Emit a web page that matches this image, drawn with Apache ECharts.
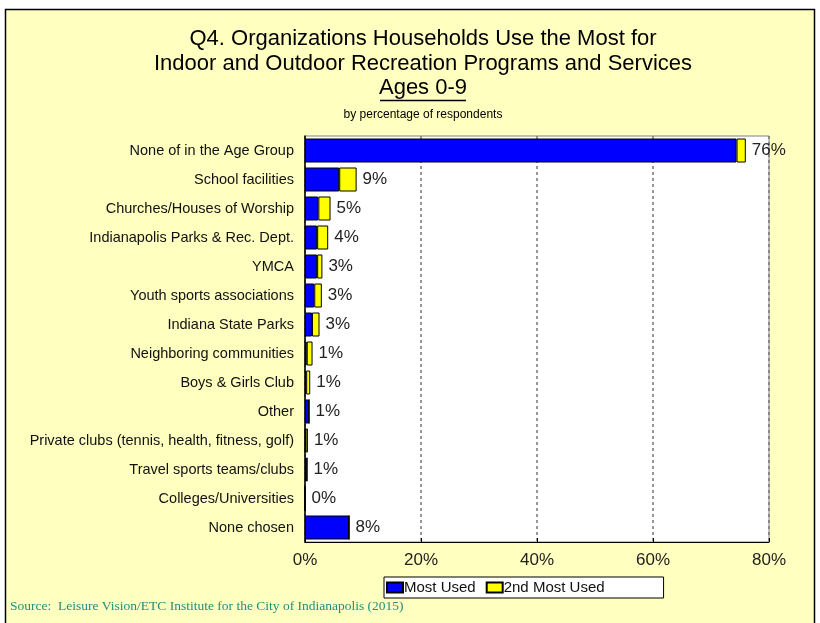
<!DOCTYPE html>
<html>
<head>
<meta charset="utf-8">
<script src="https://cdn.jsdelivr.net/npm/echarts@6/dist/echarts.min.js"></script>
<style>
  html, body { margin: 0; padding: 0; background: #fff; }
  #chart { width: 820px; height: 623px; }
</style>
</head>
<body>
<div id="chart"></div>
<script>
// categories, top to bottom
var categories = [
    'None of in the Age Group',
    'School facilities',
    'Churches/Houses of Worship',
    'Indianapolis Parks & Rec. Dept.',
    'YMCA',
    'Youth sports associations',
    'Indiana State Parks',
    'Neighboring communities',
    'Boys & Girls Club',
    'Other',
    'Private clubs (tennis, health, fitness, golf)',
    'Travel sports teams/clubs',
    'Colleges/Universities',
    'None chosen'
];
var most_used   = [74.4, 5.9, 2.3, 2.1, 2.1, 1.6, 1.2, 0.3, 0.2, 0.7, 0.1, 0.3, 0, 7.6];
var second_used = [1.6, 3.0, 2.1, 1.9, 0.9, 1.3, 1.3, 1.0, 0.7, 0, 0.4, 0.1, 0, 0];
var total_labels = ['76%', '9%', '5%', '4%', '3%', '3%', '3%', '1%', '1%', '1%', '1%', '1%', '0%', '8%'];
var x_ticks = [0, 20, 40, 60, 80];

var myChart = echarts.init(document.getElementById('chart'));

var font = 'Liberation Sans, Arial, sans-serif';

var option = {
    backgroundColor: '#fff',
    animation: false,
    textStyle: { fontFamily: font },
    graphic: [
        {
            type: 'rect', z: -10, silent: true,
            shape: { x: 5.5, y: 9.5, width: 809, height: 630 },
            style: { fill: '#FFFFC0', stroke: '#000', lineWidth: 1.5 }
        },
        {
            type: 'text', x: 423, y: 26,
            style: {
                text: 'Q4. Organizations Households Use the Most for\nIndoor and Outdoor Recreation Programs and Services',
                font: '22px ' + font, fill: '#000', align: 'center', lineHeight: 25
            }
        },
        {
            type: 'text', x: 423, y: 77,
            style: { text: 'Ages 0-9', font: '22px ' + font, fill: '#000', align: 'center' }
        },
        {
            type: 'line', silent: true,
            shape: { x1: 380, y1: 100.5, x2: 466, y2: 100.5 },
            style: { stroke: '#000', lineWidth: 1.5 }
        },
        {
            type: 'text', x: 423, y: 109,
            style: { text: 'by percentage of respondents', font: '12px ' + font, fill: '#000', align: 'center' }
        },
        {
            type: 'text', x: 10, y: 599,
            style: {
                text: 'Source:  Leisure Vision/ETC Institute for the City of Indianapolis (2015)',
                font: '13.5px Liberation Serif, Times New Roman, serif', fill: '#1f8f7f'
            }
        }
    ],
    legend: {
        data: ['Most Used', '2nd Most Used'],
        left: 384, top: 577,
        backgroundColor: '#fff',
        borderColor: '#000',
        borderWidth: 1,
        padding: [3, 59, 3, 2],
        itemGap: 10,
        itemWidth: 16,
        itemHeight: 10,
        icon: 'rect',
        textStyle: { fontSize: 15, color: '#111', fontFamily: font, padding: [0, 0, 0, -4] }
    },
    grid: {
        left: 305, right: 51, top: 136, bottom: 81,
        show: true, backgroundColor: '#fff', borderColor: '#808080', borderWidth: 1
    },
    xAxis: {
        type: 'value', min: 0, max: 80, interval: 20,
        axisLine: { show: true, lineStyle: { color: '#000' } },
        axisTick: { show: true, inside: true, length: 4, lineStyle: { color: '#000' } },
        axisLabel: {
            formatter: function (v) { return x_ticks.indexOf(v) >= 0 ? v + '%' : ''; },
            fontSize: 17, color: '#222', margin: 10, fontFamily: font
        },
        splitLine: { show: true, lineStyle: { color: '#777', type: [3, 3], width: 1.5 } }
    },
    yAxis: {
        type: 'category', data: categories, inverse: true,
        axisLine: { show: true, lineStyle: { color: '#000', width: 1.5 } },
        axisTick: { show: false },
        axisLabel: { fontSize: 14.5, color: '#111', margin: 11, fontFamily: font }
    },
    series: [
        {
            name: 'Most Used', type: 'bar', stack: 'total',
            data: most_used, barWidth: 24,
            itemStyle: { color: '#0000FF', borderColor: '#000', borderWidth: 1 }
        },
        {
            name: '2nd Most Used', type: 'bar', stack: 'total',
            data: second_used, barWidth: 24,
            itemStyle: { color: '#FFFF00', borderColor: '#000', borderWidth: 1 },
            label: {
                show: true, position: 'right', distance: 6,
                fontSize: 17, color: '#222', fontFamily: font,
                formatter: function (p) { return total_labels[p.dataIndex]; }
            }
        }
    ]
};

myChart.setOption(option);
</script>
</body>
</html>
